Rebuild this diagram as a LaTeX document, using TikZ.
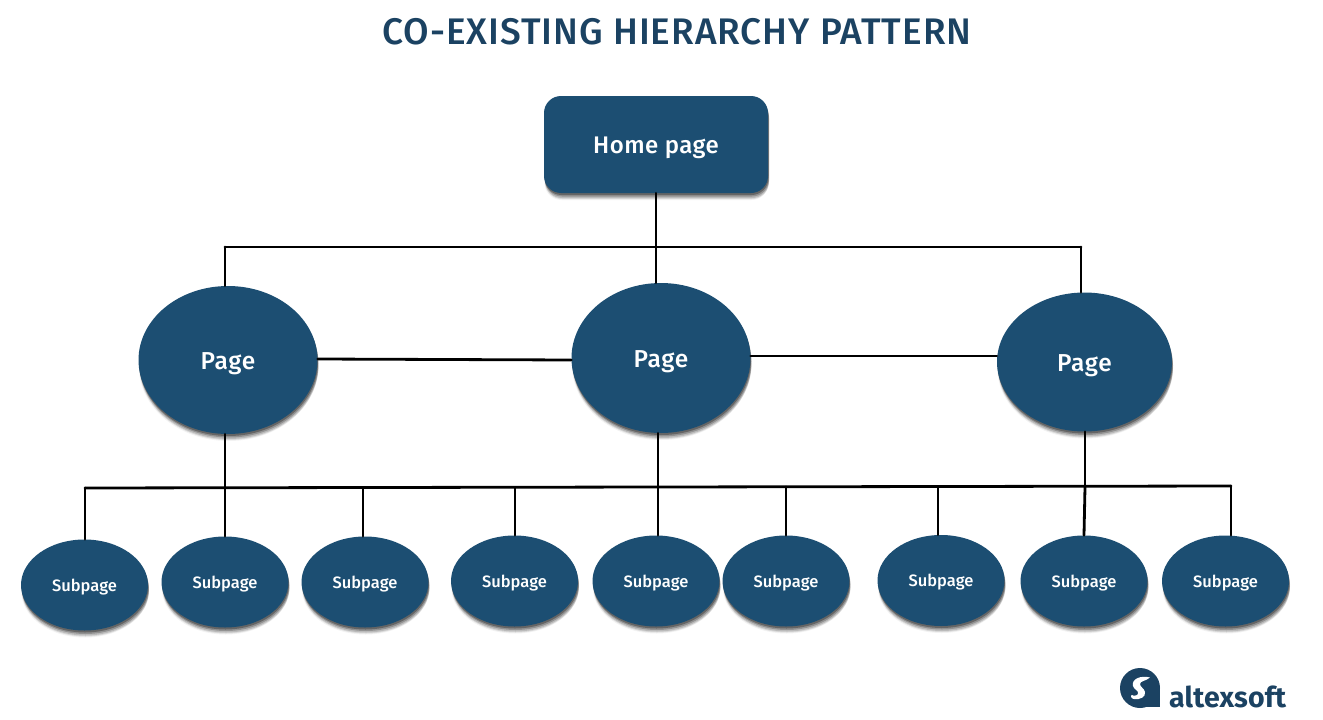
\documentclass[tikz,border=0pt]{standalone}
\usepackage{fontspec}
\setmainfont{Fira Sans Medium}
\newfontfamily\logofont{Fira Sans}
\usetikzlibrary{shapes.geometric,shadows}
\definecolor{navy}{HTML}{1C4E72}
\definecolor{titlecol}{HTML}{1B4262}
\tikzset{
  x=1pt,y=-1pt,
  softshadow/.style={
    drop shadow={shadow xshift=.5pt,shadow yshift=-7pt,opacity=.05,fill=black},
    drop shadow={shadow xshift=1pt,shadow yshift=-6pt,opacity=.10,fill=black},
    drop shadow={shadow xshift=1pt,shadow yshift=-5pt,opacity=.14,fill=black},
    drop shadow={shadow xshift=1pt,shadow yshift=-3.5pt,opacity=.22,fill=black},
    drop shadow={shadow xshift=.5pt,shadow yshift=-2pt,opacity=.3,fill=black}},
  homebox/.style={rectangle,rounded corners=17pt,fill=navy,text=white,minimum width=224pt,minimum height=97pt,inner sep=0pt,text height=18pt,text depth=0pt,font=\fontsize{24}{28}\selectfont\addfontfeature{LetterSpace=2},softshadow},
  pagenode/.style={ellipse,fill=navy,text=white,inner sep=0pt,text height=18pt,text depth=0pt,font=\fontsize{24.5}{28}\selectfont\addfontfeature{LetterSpace=3},softshadow},
  subnode/.style={ellipse,fill=navy,text=white,inner sep=0pt,minimum width=127pt,minimum height=91pt,text height=12.5pt,text depth=0pt,font=\fontsize{16.5}{20}\selectfont,softshadow},
  link/.style={draw=black,line width=2.8pt,line cap=round},
}
\begin{document}
\begin{tikzpicture}
\useasboundingbox[fill=white] (0,0) rectangle (1323,720);
\node[text=titlecol,font=\fontsize{37}{44}\selectfont\addfontfeature{LetterSpace=2.6}] (title) at (677,32) {CO-EXISTING HIERARCHY PATTERN};
\node[homebox] (home) at (656,144.5) {Home page};
\node[pagenode,minimum width=179pt,minimum height=148pt] (p1) at (228,360) {Page};
\node[pagenode,minimum width=179pt,minimum height=150pt] (p2) at (661,358) {Page};
\node[pagenode,minimum width=175pt,minimum height=139pt] (p3) at (1084.5,362) {Page};
\node[subnode] (s1) at (84.5,585) {Subpage};
\node[subnode] (s2) at (225,582) {Subpage};
\node[subnode] (s3) at (365,582) {Subpage};
\node[subnode] (s4) at (514.5,581) {Subpage};
\node[subnode] (s5) at (656,581) {Subpage};
\node[subnode] (s6) at (786,581) {Subpage};
\node[subnode] (s7) at (941,580.5) {Subpage};
\node[subnode] (s8) at (1084,581) {Subpage};
\node[subnode] (s9) at (1225.5,581) {Subpage};
% junctions
\coordinate (ja) at (225,247);
\coordinate (jb) at (656,247);
\coordinate (jc) at (1081,247);
\coordinate (b1) at (85,488);
\coordinate (b2) at (225,488);
\coordinate (b3) at (363,488);
\coordinate (b4) at (515,488);
\coordinate (b5) at (658,487);
\coordinate (b6) at (786,487);
\coordinate (b7) at (938,487);
\coordinate (b8) at (1085,487);
\coordinate (b9) at (1231,486);
% upper tree
\draw[link] (ja) -- (jc);
\draw[link] (home.south) -- (jb);
\draw[link] (jb) -- (jb |- p2.north);
\draw[link] (ja) -- (ja |- p1.north);
\draw[link] (jc) -- (jc |- p3.north);
% page links
\draw[link] ([yshift=1pt]p1.east) -- ([yshift=-2pt]p2.west);
\draw[link] ([yshift=2pt]p2.east) -- ([yshift=6pt]p3.west);
% lower tree
\draw[link] (b1) -- (b9);
\draw[link] (b2 |- p1.south) -- (b2);
\draw[link] (b5 |- p2.south) -- (b5);
\draw[link] (b8 |- p3.south) -- (b8);
\draw[link] (b1) -- (s1.north -| b1);
\draw[link] (b2) -- (s2.north);
\draw[link] (b3) -- (s3.north -| b3);
\draw[link] (b4) -- (s4.north -| b4);
\draw[link] (b5) -- (s5.north -| b5);
\draw[link] (b6) -- (s6.north);
\draw[link] (b7) -- (s7.north -| b7);
\draw[link] (b8) -- (s8.north);
\draw[link] (b9) -- (s9.north -| b9);
% logo
\fill[titlecol] (1140,688) circle[radius=20];
\fill[titlecol] (1140,688) rectangle (1160,707);
\fill[white] (1150,677.5) .. controls (1141,675) and (1131,679) .. (1133,686)
  .. controls (1134,690) and (1139,690) .. (1138,694)
  .. controls (1137,696) and (1133,696) .. (1132,695)
  .. controls (1130,695) and (1131,699) .. (1134,699)
  .. controls (1140,700) and (1146,697) .. (1145,692)
  .. controls (1144,688) and (1140,687) .. (1140,684)
  .. controls (1140,681) and (1146,681) .. (1150,677.5) -- cycle;
\node[anchor=base west,inner sep=0pt,text=titlecol,font=\logofont\bfseries\fontsize{28.5}{32}\selectfont\addfontfeature{LetterSpace=0.6}] (logo) at (1169,707) {altexsoft};
\end{tikzpicture}
\end{document}
